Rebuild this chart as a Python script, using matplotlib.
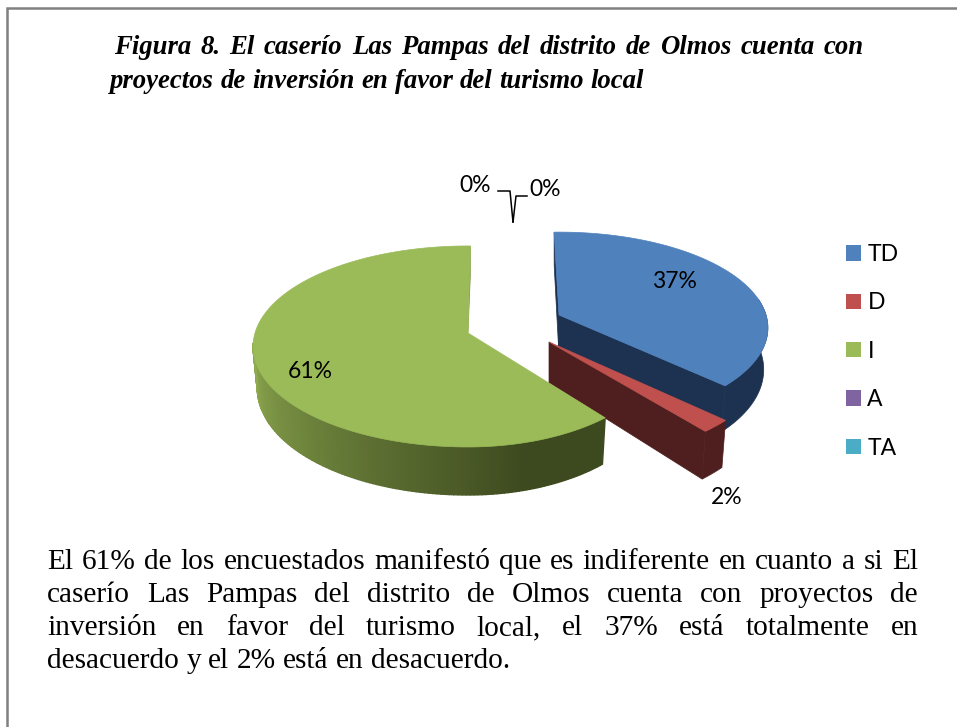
import numpy as np
import matplotlib
matplotlib.use("Agg")
import matplotlib.pyplot as plt
from matplotlib.colors import to_rgb
from matplotlib.patches import Patch, Polygon

categories = ["TD", "D", "I", "A", "TA"]
values = [37, 2, 61, 0, 0]
top_colors = ["#4F81BD", "#C0504D", "#9BBB59", "#8064A2", "#4BACC6"]
side_colors = ["#1D3250", "#4F1F1F", "#8FAB50"]
title_lines = ["Figura 8. El caserío Las Pampas del distrito de Olmos cuenta con",
               "proyectos de inversión en favor del turismo local"]
body_lines = ["El 61% de los encuestados manifestó que es indiferente en cuanto a si El",
              "caserío Las Pampas del distrito de Olmos cuenta con proyectos de",
              "inversión en favor del turismo local, el 37% está totalmente en",
              "desacuerdo y el 2% está en desacuerdo."]

# pie geometry in pixels, one entry per drawn slice
apexes = [(559, 315), (549, 342), (468, 333)]
radius_right = [207, 220, 193]
radius_y = [94, 104, 98.7]
RX_LEFT, PERSP, DEPTH = 213, 0.134, 48

fig = plt.figure(figsize=(9.57, 7.27), dpi=100)
ax = fig.add_axes([0, 0, 1, 1])
ax.set_xlim(0, 957)
ax.set_ylim(727, 0)
ax.axis("off")


def project(s, theta, z=0.0):
    t = np.radians(theta)
    u, v = np.sin(t), np.cos(t)
    w = 1 + PERSP * v
    rx = radius_right[s] if u > 0 else RX_LEFT
    x = apexes[s][0] + rx * u / w * (1 - 0.02 * z)
    y = apexes[s][1] - radius_y[s] * v / w + z * DEPTH * (1 - 0.3 * (v + 1) / 2)
    return x, y


def arc(s, t0, t1, z=0.0):
    th = np.linspace(t0, t1, max(int(abs(t1 - t0)), 2) + 1)
    return [project(s, a, z) for a in th]


def fill(points, color, zorder, lw=0.5):
    ax.add_patch(Polygon(points, closed=True, facecolor=color, edgecolor=color, linewidth=lw, zorder=zorder))


edges = np.cumsum([0] + values) * 3.6

# blue slice
a0, a1 = edges[0], edges[1]
low = (apexes[0][0], apexes[0][1] + DEPTH * 0.85)
fill([project(0, a0 - 1.5), project(0, a0 - 1.5, 1), low, apexes[0]], side_colors[0], 1)
fill([project(0, a1), project(0, a1, 1), low, apexes[0]], side_colors[0], 1)
fill(arc(0, 80, a1) + arc(0, a1, 80, 1), side_colors[0], 1)
fill([apexes[0]] + arc(0, a0 - 1.5, a1), top_colors[0], 2)

# red slice
a0, a1 = edges[1], edges[2]
low = (apexes[1][0], apexes[1][1] + DEPTH * 0.85)
fill([project(1, a1), project(1, a1, 1.03), low, apexes[1]], side_colors[1], 3)
fill(arc(1, a0, a1) + arc(1, a1, a0, 1.03), side_colors[1], 3)
fill([apexes[1]] + arc(1, a0, a1), top_colors[1], 4)

# green slice, outer wall shaded in small steps
a0, a1 = edges[2], edges[3]
light, dark = np.array(to_rgb(side_colors[2])), np.array(to_rgb("#3D4A1F"))
wall = np.arange(a0, 264, 1.0)
for th in wall:
    f = min(1.0, (wall[-1] - th) / (wall[-1] - 165))
    col = light + (dark - light) * f
    fill(arc(2, th, th + 1.0) + arc(2, th + 1.0, th, 1), col, 5, lw=1.0)
fill([project(2, a1 + 0.8), project(2, a1 + 0.8, 0.9), apexes[2]], "#7F9A49", 5)
fill([apexes[2]] + arc(2, a0, a1 + 0.8), top_colors[2], 6)

# data labels
label_pos = [(674, 281), (727, 497), (310, 371), (475, 185), (545, 190)]
for v, (x, y) in zip(values, label_pos):
    ax.text(x, y, f"{v}%", family="Lato", fontsize=16.5, ha="center", va="center", color="black", zorder=8)

# leader lines of the zero slices
ax.plot([498, 510, 513], [191, 191, 222], color="black", lw=1.1, zorder=7)
ax.plot([527, 516, 513], [196, 196, 222], color="black", lw=1.1, zorder=7)

# frame of the page
ax.plot([6.5, 6.5, 957], [727, 8, 8], color="#808080", lw=1.8, solid_joinstyle="miter", clip_on=False)

handles = [Patch(facecolor=c, edgecolor="none", label=n) for c, n in zip(top_colors, categories)]
ax.legend(handles=handles, loc="upper left", bbox_to_anchor=(846 / 957, 1 - 244 / 727), frameon=False,
          prop={"family": "Lato", "size": 16.5}, handlelength=0.655, handleheight=0.655, handletextpad=0.28,
          labelspacing=1.195, borderpad=0, borderaxespad=0)


def justified(line, x0, x1, y, **kw):
    renderer = fig.canvas.get_renderer()
    words = line.split()
    items = [ax.text(0, y, w, va="baseline", **kw) for w in words]
    widths = [t.get_window_extent(renderer).width for t in items]
    gap = (x1 - x0 - sum(widths)) / (len(words) - 1) if x1 else None
    x = x0
    for t, w in zip(items, widths):
        t.set_x(x)
        x += w + (gap if gap is not None else kw["fontsize"] * 100 / 72 * 0.25)


serif = dict(family="Liberation Serif", color="black")
justified(title_lines[0], 114, 864, 54, fontsize=19.3, style="italic", weight="bold", **serif)
justified(title_lines[1], 110, 0, 88, fontsize=19.3, style="italic", weight="bold", **serif)
for line, y, x1 in zip(body_lines, [569, 602, 635, 668], [918, 918, 918, 0]):
    justified(line, 47, x1, y, fontsize=21.2, **serif)

fig.savefig("out.png", dpi=100)
